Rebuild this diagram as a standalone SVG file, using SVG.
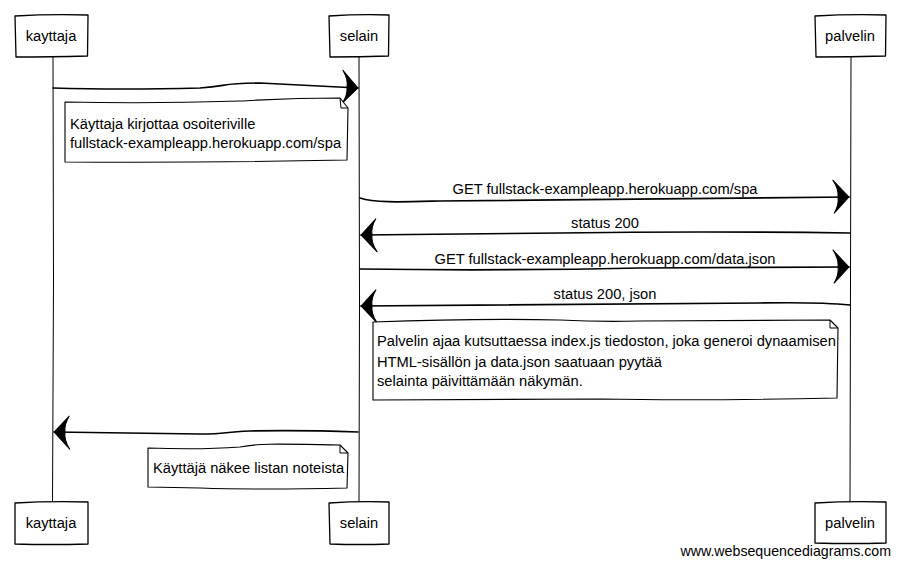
<svg xmlns="http://www.w3.org/2000/svg" width="900" height="567" viewBox="0 0 900 567">
  <style>
    .box { fill: #ffffff; stroke: #000000; stroke-width: 1.3; stroke-linejoin: round; }
    .life { fill: none; stroke: #000000; stroke-width: 1; }
    .msg { fill: none; stroke: #000000; stroke-width: 1.7; stroke-linecap: round; }
    .note { fill: #ffffff; stroke: #000000; stroke-width: 1.1; stroke-linejoin: round; }
    .fold { fill: none; stroke: #000000; stroke-width: 1; }
    text { font-family: "Liberation Sans", Arial, sans-serif; font-size: 14.7px; fill: #000000; }
    .mid { text-anchor: middle; }
    .foot { font-size: 14.2px; text-anchor: end; }
  </style>
  <defs>
    <!-- hand-drawn style concave arrowhead, tip at the marker origin -->
    <marker id="head" markerUnits="userSpaceOnUse" viewBox="-20 -20 24 40" refX="0" refY="0" markerWidth="24" markerHeight="40" orient="auto" overflow="visible">
      <path d="M0,0 L-16,-17 Q-10,-8 -11,0 Q-10,8 -15,16 Z" fill="#000000" stroke="#000000" stroke-width="1" stroke-linejoin="round"/>
    </marker>
  </defs>

  <!-- lifelines -->
  <g id="lifelines">
    <path class="life" d="M53,57 L53.5,280 L52.5,502"/>
    <path class="life" d="M359,57 L359.5,300 L359,502"/>
    <path class="life" d="M851,57 L850.5,280 L850,502"/>
  </g>

  <!-- participants (top and bottom) -->
  <g id="kayttaja">
    <path class="box" d="M15,16 Q50,14 88,15 L87.5,56 Q50,57 16,57 Z"/>
    <text x="51" y="41" class="mid">kayttaja</text>
    <path class="box" d="M15,503 Q50,501 88,502 L88,544 Q50,545 15,544 Z"/>
    <text x="51" y="528" class="mid">kayttaja</text>
  </g>
  <g id="selain">
    <path class="box" d="M329,16 Q360,14 389,15 L388.5,56 Q360,57 330,57 Z"/>
    <text x="359" y="41" class="mid">selain</text>
    <path class="box" d="M329,503 Q360,501 389,502 L389,544 Q360,545 330,544 Z"/>
    <text x="359" y="528" class="mid">selain</text>
  </g>
  <g id="palvelin">
    <path class="box" d="M815,16 Q850,14 886,15 L885.5,56 Q850,57 816,57 Z"/>
    <text x="850" y="41" class="mid">palvelin</text>
    <path class="box" d="M815,503 Q850,501 886,502 L886,543 Q850,544 815,543 Z"/>
    <text x="850" y="528" class="mid">palvelin</text>
  </g>

  <!-- messages -->
  <g id="connectors">
    <path class="msg" marker-end="url(#head)" d="M53,88 Q120,90 200,88 C230,86 220,83 260,83 L358,88"/>
    <path class="msg" marker-end="url(#head)" d="M360,198 C375,203 400,202 440,201 L849,197"/>
    <path class="msg" marker-end="url(#head)" d="M850,233 Q700,231 560,233 L361,235"/>
    <path class="msg" marker-end="url(#head)" d="M360,269 Q500,271 640,268 L849,267"/>
    <path class="msg" marker-end="url(#head)" d="M850,305 Q820,302 760,303 L361,306"/>
    <path class="msg" marker-end="url(#head)" d="M358,432 Q300,430 250,431 C220,432 230,434 200,434 L54,432"/>
  </g>

  <!-- message labels -->
  <g id="labels">
    <text x="605" y="194" class="mid">GET fullstack-exampleapp.herokuapp.com/spa</text>
    <text x="605" y="228" class="mid">status 200</text>
    <text x="605" y="264" class="mid">GET fullstack-exampleapp.herokuapp.com/data.json</text>
    <text x="605" y="299" class="mid">status 200, json</text>
  </g>

  <!-- notes -->
  <g id="note-osoiterivi">
    <path class="note" d="M65,102 Q150,104 240,101 C280,99 290,98 340,98 L348,108 L347,160 Q200,163 65,162 Z"/>
    <path class="fold" d="M340,98 L341,108 L348,108"/>
    <text x="70" y="129">Käyttaja kirjottaa osoiteriville</text>
    <text x="70" y="148">fullstack-exampleapp.herokuapp.com/spa</text>
  </g>
  <g id="note-palvelin">
    <path class="note" d="M373,322 Q480,318 560,320 Q600,322 640,321 L830,320 L838,328 L837,398 Q700,401 600,399 L373,400 Z"/>
    <path class="fold" d="M830,320 L830,328 L838,328"/>
    <text x="377" y="346">Palvelin ajaa kutsuttaessa index.js tiedoston, joka generoi dynaamisen</text>
    <text x="377" y="367">HTML-sisällön ja data.json saatuaan pyytää</text>
    <text x="377" y="386">selainta päivittämään näkymän.</text>
  </g>
  <g id="note-listan">
    <path class="note" d="M148,448 Q200,450 240,447 C260,443 280,444 340,445 L348,453 L347,488 Q260,490 200,488 L148,487 Z"/>
    <path class="fold" d="M340,445 L340,453 L348,453"/>
    <text x="153" y="473">Käyttäjä näkee listan noteista</text>
  </g>

  <text x="891" y="556" class="foot">www.websequencediagrams.com</text>
</svg>
